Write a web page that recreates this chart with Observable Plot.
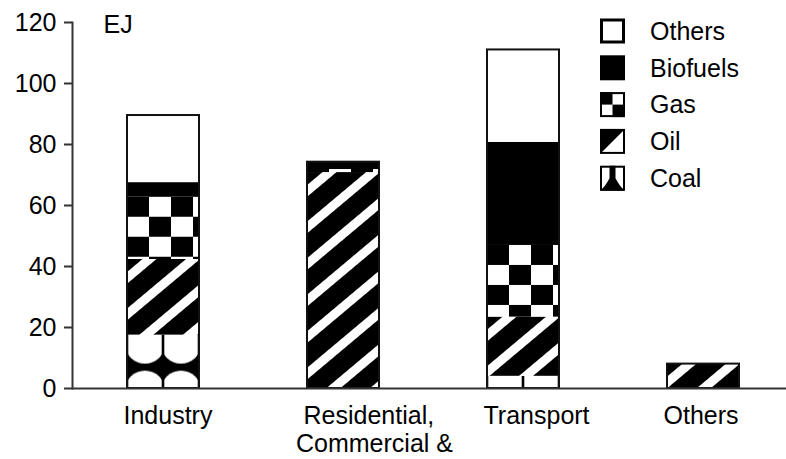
<!DOCTYPE html>
<html><head><meta charset="utf-8">
<script src="https://cdn.jsdelivr.net/npm/d3@7"></script>
<script src="https://cdn.jsdelivr.net/npm/@observablehq/plot@0.6"></script>
<style>body{margin:0;background:#fff}</style>
</head><body><div id="chart"></div>
<script>
// ---- data ----
const sectors = ["Industry", "Residential, Commercial &", "Transport", "Others"];
const labelLine1 = ["Industry", "Residential,", "Transport", "Others"];
const labelLine2 = ["", "Commercial &", "", ""];
const fuels = ["Coal", "Oil", "Gas", "Biofuels", "Others"];
const coal     = [17.5, 0,    4.0,  0];
const oil      = [24.8, 70.8, 19.4, 8];
const gas      = [20.4, 1.0,  23.5, 0];
const biofuels = [4.8,  2.4,  33.8, 0];
const others   = [22.0, 0,    30.3, 0];
const yTicks = [0, 20, 40, 60, 80, 100, 120];
const unitLabel = "EJ";

const series = {Coal: coal, Oil: oil, Gas: gas, Biofuels: biofuels, Others: others};
const rows = [];
sectors.forEach((s, i) => fuels.forEach(f => rows.push({sector: s, fuel: f, value: series[f][i]})));
const totals = sectors.map((s, i) => ({sector: s, total: d3.sum(fuels, f => series[f][i])}));
const fills = ["url(#p-coal)", "url(#p-oil)", "url(#p-gas)", "black", "white"];

const chart = Plot.plot({
  width: 786, height: 459,
  marginLeft: 72, marginRight: -8, marginTop: 22, marginBottom: 71,
  style: {fontFamily: "'Liberation Sans', Arial, sans-serif", fontSize: "25px", color: "#000", background: "#fff"},
  x: {domain: sectors, paddingInner: 0.6, paddingOuter: 0.3, axis: null},
  y: {domain: [0, 120], axis: null},
  color: {domain: fuels, range: fills},
  marks: [
    Plot.barY(rows, {x: "sector", y: "value", fill: "fuel", order: fuels}),
    Plot.barY(totals, {x: "sector", y: "total", fill: "none", stroke: "#111", strokeWidth: 2}),
    Plot.ruleY([0], {stroke: "#333", strokeWidth: 2}),
    Plot.frame({anchor: "left", stroke: "#333", strokeWidth: 2}),
    Plot.axisY({ticks: yTicks, tickSize: 8, tickPadding: 8, stroke: "#333", strokeWidth: 2}),
    Plot.text(sectors, {x: d => d, text: (d, i) => labelLine1[i], frameAnchor: "bottom", lineAnchor: "top", textAnchor: "start", dx: -40, dy: 18}),
    Plot.text(sectors, {x: d => d, text: (d, i) => labelLine2[i], frameAnchor: "bottom", lineAnchor: "top", textAnchor: "middle", dx: 31, dy: 46}),
    Plot.text([unitLabel], {frameAnchor: "top-left", textAnchor: "start", lineAnchor: "middle", dx: 31, dy: 2})
  ]
});
document.getElementById("chart").appendChild(chart);

// ---- patterns (aligned to each segment) ----
const svg = d3.select(chart);
const defs = svg.insert("defs", ":first-child");
let n = 0;
function makePattern(kind, x, y) {
  const id = "pp-" + kind + "-" + (n++);
  const p = defs.append("pattern").attr("id", id).attr("patternUnits", "userSpaceOnUse");
  if (kind === "gas") {
    p.attr("x", x).attr("y", y).attr("width", 44).attr("height", 40);
    p.append("rect").attr("width", 44).attr("height", 40).attr("fill", "white");
    p.append("rect").attr("width", 22).attr("height", 20).attr("fill", "black");
    p.append("rect").attr("x", 22).attr("y", 20).attr("width", 22).attr("height", 20).attr("fill", "black");
  } else if (kind === "coal") {
    p.attr("x", x).attr("y", y).attr("width", 36).attr("height", 47);
    p.append("rect").attr("width", 36).attr("height", 47).attr("fill", "black");
    for (const ox of [-36, 0, 36]) for (const oy of [-47, 0, 47])
      p.append("circle").attr("cx", 18 + ox).attr("cy", 9 + oy).attr("r", 20).attr("fill", "white");
    p.append("rect").attr("x", 0).attr("width", 1.3).attr("height", 47).attr("fill", "black");
    p.append("rect").attr("x", 34.7).attr("width", 1.3).attr("height", 47).attr("fill", "black");
  } else if (kind === "oil") {
    p.attr("x", x).attr("y", y).attr("width", 40).attr("height", 28)
     .attr("patternTransform", `rotate(-40 ${x} ${y})`);
    p.append("rect").attr("width", 40).attr("height", 28).attr("fill", "black");
    p.append("rect").attr("y", 10).attr("width", 40).attr("height", 9).attr("fill", "white");
  }
  return id;
}
svg.selectAll("rect").each(function() {
  const f = this.getAttribute("fill");
  if (f && f.startsWith("url(#p-")) {
    const kind = f.slice(7, -1);
    const id = makePattern(kind, +this.getAttribute("x"), +this.getAttribute("y"));
    this.setAttribute("fill", `url(#${id})`);
  }
});

// ---- legend ----
const legendOrder = fuels.slice().reverse();
const lg = svg.append("g").attr("text-anchor", "start");
legendOrder.forEach((f, i) => {
  const cy = 31 + i * 36.8, s = 25, bx = 600, by = cy - s / 2;
  const g = lg.append("g").attr("transform", `translate(${bx},${by})`);
  if (f === "Others") {
    g.append("rect").attr("x", 1.5).attr("y", 1.5).attr("width", s - 3).attr("height", s - 3).attr("fill", "white").attr("stroke", "black").attr("stroke-width", 3);
  } else if (f === "Biofuels") {
    g.append("rect").attr("width", s).attr("height", s).attr("fill", "black");
  } else if (f === "Gas") {
    g.append("rect").attr("x", 1).attr("y", 1).attr("width", s - 2).attr("height", s - 2).attr("fill", "white").attr("stroke", "black").attr("stroke-width", 2);
    g.append("rect").attr("width", s / 2).attr("height", s / 2).attr("fill", "black");
    g.append("rect").attr("x", s / 2).attr("y", s / 2).attr("width", s / 2).attr("height", s / 2).attr("fill", "black");
  } else if (f === "Oil") {
    g.append("rect").attr("x", 1).attr("y", 1).attr("width", s - 2).attr("height", s - 2).attr("fill", "white").attr("stroke", "black").attr("stroke-width", 2);
    g.append("path").attr("d", `M0,0 L${s},0 L0,${s} Z`).attr("fill", "black");
  } else if (f === "Coal") {
    g.append("rect").attr("x", 1).attr("y", 1).attr("width", s - 2).attr("height", s - 2).attr("fill", "white").attr("stroke", "black").attr("stroke-width", 2);
    g.append("path").attr("d", `M${s/2-3},0 L${s/2+3},0 L${s/2+3},${s*0.5} Q${s*0.8},${s*0.85} ${s},${s} L0,${s} Q${s*0.2},${s*0.85} ${s/2-3},${s*0.5} Z`).attr("fill", "black");
  }
  lg.append("text").attr("x", 650).attr("y", cy).attr("dy", "0.35em").attr("text-anchor", "start").attr("fill", "black").text(f);
});
</script>
</body></html>
